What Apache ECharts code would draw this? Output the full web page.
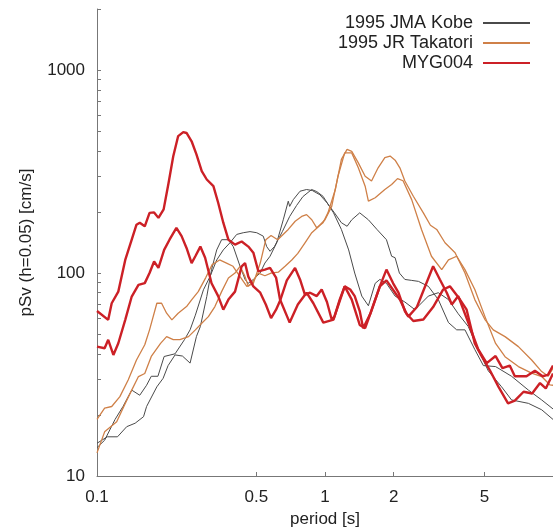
<!DOCTYPE html>
<html>
<head>
<meta charset="utf-8">
<script src="https://cdn.jsdelivr.net/npm/echarts@6/dist/echarts.min.js"></script>
<style>
  html, body { margin: 0; padding: 0; background: #fff; }
  #chart { width: 553px; height: 527px; }
</style>
</head>
<body>
<div id="chart"></div>
<script>
// pSv spectra, [period (s), pSv (cm/s)]
const kobe1 = [[0.1,14.5],[0.111,15.6],[0.123,15.6],[0.135,17.5],[0.147,18.2],[0.16,19.6],[0.165,22],[0.183,27.5],[0.195,30.3],[0.205,35],[0.22,39.5],[0.237,39],[0.256,36],[0.273,48.7],[0.284,54.5],[0.303,76.6],[0.318,104],[0.335,130],[0.352,146],[0.377,146],[0.396,135],[0.424,108],[0.446,93],[0.46,89],[0.485,93],[0.519,100],[0.545,112],[0.574,121],[0.614,141],[0.656,183],[0.69,226],[0.70,213],[0.726,230],[0.777,253],[0.83,258],[0.88,255],[0.95,243],[1.02,222],[1.1,198],[1.18,177],[1.25,170],[1.31,183],[1.42,198],[1.55,183],[1.69,164],[1.86,146],[1.96,121],[2.03,119],[2.12,100],[2.24,93],[2.4,92],[2.57,91],[2.84,86],[3.14,74],[3.48,57],[3.78,52.5],[4.11,52.5],[4.54,42],[4.95,35],[5.6,34.6],[6.58,31],[7.8,26.5],[8.92,23.7],[10,21.4]];
const kobe2 = [[0.1,13.8],[0.108,15],[0.12,19],[0.13,22],[0.142,26.5],[0.154,25],[0.165,28],[0.173,31],[0.185,31],[0.197,38.8],[0.22,40],[0.242,47],[0.256,52.5],[0.27,62],[0.293,82.7],[0.313,96],[0.335,116],[0.358,130],[0.383,141],[0.41,155],[0.438,158],[0.469,160],[0.502,158],[0.536,152],[0.555,135],[0.574,128],[0.6,135],[0.65,160],[0.7,190],[0.75,215],[0.8,238],[0.874,258],[0.92,252],[0.98,239],[1.09,198],[1.18,164],[1.27,130],[1.35,100],[1.45,77],[1.55,69],[1.66,89],[1.74,93],[1.86,89],[2.03,77],[2.24,72],[2.48,66],[2.84,77],[3.14,80],[3.48,74],[3.84,63],[4.25,54.5],[4.7,42],[5.2,33],[5.95,27.5],[6.58,23.7],[7.8,22.8],[8.92,21.2],[10,19]];
const takatori1 = [[0.1,19],[0.108,21.6],[0.116,22],[0.126,24.6],[0.137,29.7],[0.149,37.3],[0.162,44.3],[0.17,52.5],[0.183,71],[0.192,71],[0.202,63.4],[0.213,58.8],[0.227,63.4],[0.247,68.4],[0.26,73.8],[0.278,81],[0.3,95],[0.32,110],[0.345,116],[0.37,112],[0.395,108],[0.424,96],[0.454,86],[0.485,89],[0.52,112],[0.55,146],[0.58,153],[0.62,146],[0.69,164],[0.74,180],[0.79,190],[0.83,194],[0.875,183],[0.92,167],[0.98,177],[1.03,198],[1.11,258],[1.18,363],[1.25,407],[1.31,398],[1.4,349],[1.5,300],[1.6,284],[1.71,330],[1.83,370],[1.93,377],[2.03,360],[2.13,330],[2.24,284],[2.44,239],[2.7,198],[2.9,172],[3.09,164],[3.36,141],[3.72,126],[4.11,100],[4.54,74],[5.03,59],[5.47,52.5],[6.16,48.6],[7.05,43.4],[8.06,37.3],[8.92,32.7],[9.53,31],[10,34]];
const takatori2 = [[0.1,13],[0.108,16.5],[0.122,18.5],[0.133,22.8],[0.142,26.5],[0.152,30.9],[0.162,32],[0.173,38.8],[0.19,45],[0.202,48.6],[0.216,47],[0.231,47],[0.252,48.6],[0.27,52.5],[0.288,56.6],[0.308,61],[0.329,68.4],[0.352,81],[0.377,94.5],[0.403,100],[0.424,108],[0.446,96],[0.461,86],[0.48,90],[0.51,100],[0.545,97],[0.58,100],[0.624,101],[0.668,108],[0.715,116],[0.76,125],[0.817,141],[0.875,158],[0.93,168],[1.0,183],[1.07,213],[1.14,300],[1.22,391],[1.31,391],[1.4,330],[1.5,268],[1.55,226],[1.66,235],[1.83,258],[1.96,273],[2.08,292],[2.2,285],[2.4,230],[2.65,164],[2.93,121],[3.25,104],[3.48,116],[3.78,121],[4.11,104],[4.54,83],[5.03,61],[5.6,45],[6.16,38.7],[7.05,34.6],[8.06,32.1],[8.92,30.9],[9.7,28.1],[10,28]];
const myg1 = [[0.1,65],[0.112,58.8],[0.116,71],[0.124,81],[0.133,116],[0.142,146],[0.149,173],[0.154,177],[0.162,170],[0.17,198],[0.178,199],[0.186,187],[0.196,206],[0.206,278],[0.216,376],[0.227,473],[0.239,495],[0.247,490],[0.26,446],[0.273,384],[0.288,318],[0.303,289],[0.324,268],[0.34,222],[0.358,177],[0.377,146],[0.403,138],[0.431,143],[0.461,135],[0.485,126],[0.51,102],[0.545,104],[0.574,106],[0.61,95],[0.635,74],[0.70,57],[0.76,70],[0.83,80],[0.889,71],[0.983,57],[1.09,59],[1.16,74],[1.22,86],[1.31,74],[1.42,55.5],[1.5,53.5],[1.58,63],[1.74,86],[1.86,92],[2.03,80],[2.13,74],[2.28,63],[2.44,58],[2.7,59],[2.98,68],[3.3,83],[3.53,86],[3.91,74],[4.18,66],[4.54,45],[4.8,40],[5.3,33],[5.77,27.5],[6.35,22.8],[6.8,23.5],[7.43,26],[8.1,25.5],[8.77,28.7],[9.3,27],[10,32]];
const myg2 = [[0.1,43.4],[0.108,42.6],[0.112,46.9],[0.118,39.5],[0.124,45.1],[0.133,58.8],[0.142,76.6],[0.152,87.5],[0.162,89.2],[0.17,100],[0.178,114],[0.186,106],[0.197,130],[0.208,146],[0.223,167],[0.235,152],[0.247,133],[0.26,112],[0.27,121],[0.284,135],[0.298,119],[0.318,89],[0.34,77],[0.358,66],[0.377,74],[0.403,81],[0.431,108],[0.446,112],[0.461,96],[0.485,86],[0.52,80],[0.55,70],[0.58,60],[0.61,66],[0.635,73],[0.68,92],[0.739,106],[0.777,93],[0.817,78],[0.86,80],[0.92,77],[0.967,83],[1.02,72],[1.07,59],[1.1,61],[1.22,86],[1.29,83],[1.35,77],[1.42,65],[1.47,53.5],[1.58,63],[1.74,86],[1.86,104],[1.99,89],[2.1,80],[2.24,65],[2.32,61],[2.53,68],[2.98,108],[3.19,93],[3.42,80],[3.6,70],[3.84,77],[4.25,57],[4.7,42],[5.12,36],[5.6,39],[6.0,34],[6.46,35],[6.8,31],[7.65,31],[8.33,33],[9.0,31],[9.5,31.5],[10,35]];

const xLabels = [0.1, 0.5, 1, 2, 5];
const xTicks = [0.5, 1, 2, 5];
const yLabels = [10, 100, 1000];
const yTicks = [10,20,30,40,50,60,70,80,90,100,200,300,400,500,600,700,800,900,1000,2000];

const names = ['1995 JMA Kobe', '1995 JR Takatori', 'MYG004'];
const colors = ['#4a4a4a', '#cf8048', '#cc2026'];

const chart = echarts.init(document.getElementById('chart'));

const fmt = v => String(+(+v).toPrecision(6));
const font = 'Liberation Sans, Arial, sans-serif';

function line (name, data, color, width) {
  return {
    name: name,
    type: 'line',
    data: data,
    symbol: 'none',
    lineStyle: { color: color, width: width },
    itemStyle: { color: color },
    emphasis: { disabled: true }
  };
}

chart.setOption({
  animation: false,
  textStyle: { fontFamily: font },
  grid: { left: 97, right: 0, top: 9, bottom: 51, containLabel: false, outerBoundsMode: 'none' },
  legend: {
    data: names,
    orient: 'vertical',
    right: 23,
    top: 13,
    padding: 0,
    align: 'right',
    icon: 'rect',
    itemWidth: 47,
    itemHeight: 2,
    itemGap: 0,
    textStyle: { fontSize: 18, lineHeight: 20, color: '#222', fontFamily: font, padding: [0, 5, 0, 0] }
  },
  xAxis: {
    type: 'log',
    logBase: 10,
    min: 0.1,
    max: 10,
    name: 'period [s]',
    nameLocation: 'middle',
    nameGap: 33,
    nameTextStyle: { fontSize: 17, color: '#222' },
    axisLine: { lineStyle: { color: '#777', width: 1 } },
    axisTick: { inside: true, length: 4, customValues: xTicks, lineStyle: { color: '#777' } },
    axisLabel: { customValues: xLabels, formatter: fmt, fontSize: 17, color: '#222', margin: 13 },
    splitLine: { show: false },
    minorTick: { show: false }
  },
  yAxis: {
    type: 'log',
    logBase: 10,
    min: 10,
    max: 2000,
    name: 'pSv (h=0.05) [cm/s]',
    nameLocation: 'middle',
    nameGap: 62,
    nameTextStyle: { fontSize: 17, color: '#222' },
    axisLine: { show: true, lineStyle: { color: '#777', width: 1 } },
    axisTick: { show: true, inside: true, length: 4, customValues: yTicks, lineStyle: { color: '#777' } },
    axisLabel: { customValues: yLabels, formatter: fmt, fontSize: 17, color: '#222', margin: 12 },
    splitLine: { show: false }
  },
  series: [
    line(names[0], kobe1, colors[0], 1),
    line(names[0], kobe2, colors[0], 1),
    line(names[1], takatori1, colors[1], 1.3),
    line(names[1], takatori2, colors[1], 1.3),
    line(names[2], myg1, colors[2], 2.4),
    line(names[2], myg2, colors[2], 2.4)
  ]
});
</script>
</body>
</html>
